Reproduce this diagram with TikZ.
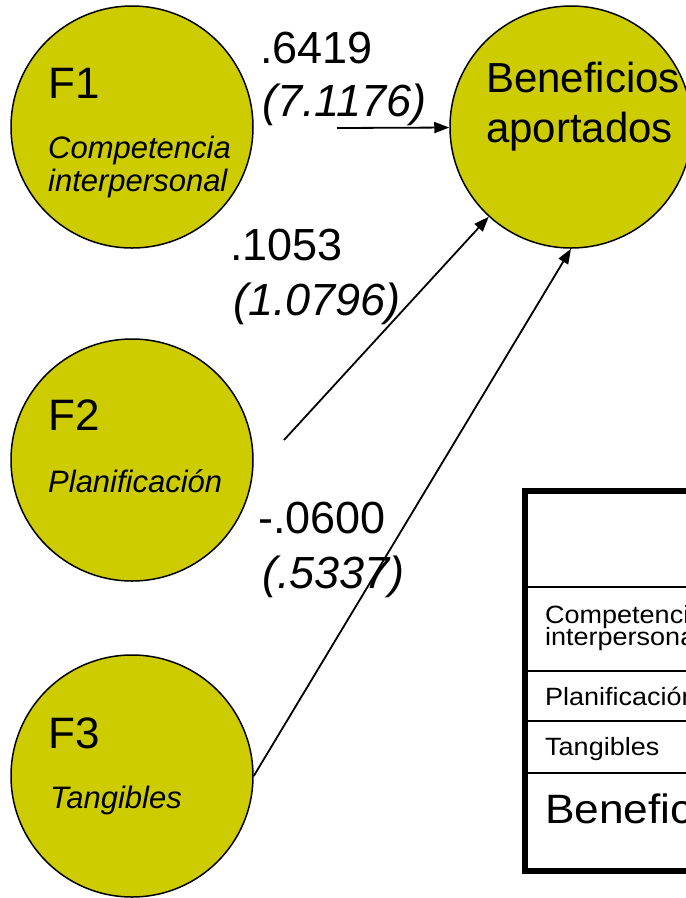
\documentclass[tikz,border=0pt]{standalone}
\usepackage{fontspec}
\setmainfont{Liberation Sans}
\newfontfamily\cellfont[FakeStretch=1.08]{Liberation Sans}
\usetikzlibrary{arrows.meta}
\definecolor{factorfill}{RGB}{204,204,0}

\tikzset{
  factor/.style={circle, draw=black, line width=1.5pt, fill=factorfill,
    minimum size=242pt, inner sep=0pt},
  bigtxt/.style={anchor=base west, inner sep=0pt, font=\fontsize{44}{50}\selectfont},
  coeftxt/.style={anchor=base west, inner sep=0pt, font=\fontsize{45}{50}\selectfont},
  coefit/.style={coeftxt, font=\fontsize{45}{50}\selectfont\itshape},
  nametxt/.style={anchor=base west, inner sep=0pt, font=\fontsize{31}{33}\selectfont\itshape},
  celltxt/.style={anchor=base west, inner sep=0pt, font=\cellfont\fontsize{25}{22}\selectfont},
  cellbig/.style={anchor=base west, inner sep=0pt, font=\cellfont\fontsize{41}{44}\selectfont},
  arr/.style={line width=1.8pt, -{Triangle[length=15pt,width=11pt]}},
  outerrule/.style={line width=6pt},
  innerrule/.style={line width=2pt}
}

\begin{document}
\begin{tikzpicture}[x=1pt,y=-1pt]
\useasboundingbox (0,0) rectangle (686,898);
\clip (0,0) rectangle (686,898);

% factor circles and outcome circle
\node[factor] (f1) at (132,127) {};
\node[factor] (f2) at (132,460) {};
\node[factor] (f3) at (132,776) {};
\node[factor] (ben) at (571,127) {};

% circle labels
\node[bigtxt] (f1n) at (48,98) {F1};
\node[nametxt] (f1a) at (48,158) {Competencia};
\node[nametxt] (f1b) at (48,191) {interpersonal};
\node[bigtxt] (f2n) at (48,430) {F2};
\node[nametxt] (f2a) at (48,492) {Planificación};
\node[bigtxt] (f3n) at (48,748) {F3};
\node[nametxt] (f3a) at (50,808) {Tangibles};
\node[bigtxt, font=\fontsize{42}{50}\selectfont] (bena) at (486,92) {Beneficios};
\node[bigtxt, font=\fontsize{42}{50}\selectfont] (benb) at (486,142) {aportados};

% paths into the outcome
\coordinate (s1) at (337,128);
\coordinate (s2) at (284,440);
\draw[arr] (s1) -- (ben);
\draw[arr] (s2) -- (ben);
\draw[arr] (f3.east) -- (ben.south);

% path coefficients and t values
\node[coeftxt] (c1) at (260,63) {.6419};
\node[coefit] (t1) at (262,116) {(7.1176)};
\node[coeftxt] (c2) at (230,260) {.1053};
\node[coefit] (t2) at (233,315) {(1.0796)};
\node[coeftxt] (c3) at (258,533) {-.0600};
\node[coefit] (t3) at (262,588) {(.5337)};

% summary table
\draw[innerrule] (525,587) -- (700,587);
\draw[innerrule] (525,671) -- (700,671);
\draw[innerrule] (525,721) -- (700,721);
\draw[innerrule] (525,773) -- (700,773);
\draw[outerrule] (700,491) -- (525,491) -- (525,871) -- (700,871);
\node[celltxt] (r1a) at (545,623) {Competencia};
\node[celltxt] (r1b) at (545,645) {interpersonal};
\node[celltxt] (r2) at (545,705) {Planificación};
\node[celltxt] (r3) at (545,755) {Tangibles};
\node[cellbig] (r4) at (545,823) {Beneficios};
\end{tikzpicture}
\end{document}
